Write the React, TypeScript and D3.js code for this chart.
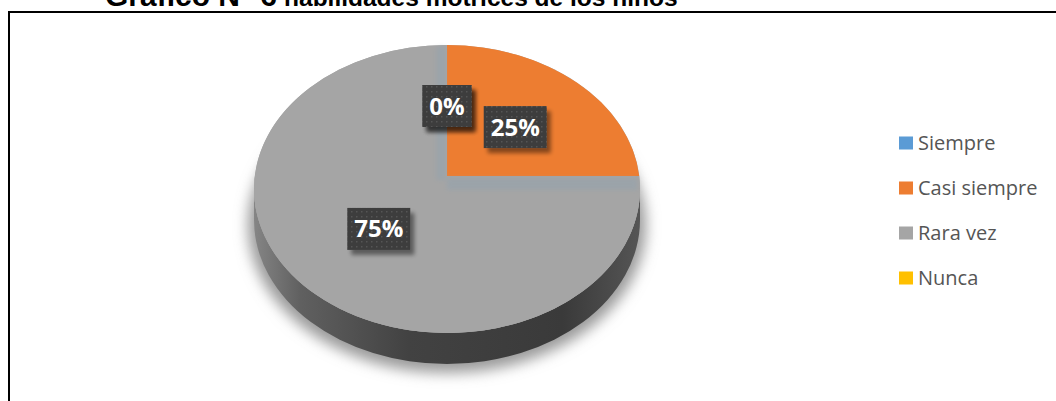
import React from 'react';
import * as d3 from 'd3';

const categories = ['Siempre', 'Casi siempre', 'Rara vez', 'Nunca'];
const values = [0, 25, 75, 0];
const percentLabels = ['0%', '25%', '75%', '0%'];
const sliceColors = ['#5b9bd5', '#ed7d31', '#a5a5a5', '#ffc000'];
const titleMain = 'Gráfico N° 6';
const titleSub = 'habilidades motrices de los niños';

export default function App() {
  const W = 1056, H = 401;
  const cx = 447, cy = 189, rx = 193, ry = 144, depth = 31;
  const px = 447, py = 176;
  const color = d3.scaleOrdinal<string, string>().domain(categories).range(sliceColors);
  const pie = d3.pie<number>().sort(null).value((d) => d);
  const arcs = pie(values);

  const hit = (theta: number): [number, number] => {
    const dx = Math.sin(theta), dy = -Math.cos(theta);
    const ux = (px - cx) / rx, uy = (py - cy) / ry, vx = dx / rx, vy = dy / ry;
    const a = vx * vx + vy * vy, b = 2 * (ux * vx + uy * vy), c = ux * ux + uy * uy - 1;
    const t = (-b + Math.sqrt(b * b - 4 * a * c)) / (2 * a);
    return [px + t * dx, py + t * dy];
  };
  const phi = (p: [number, number]) => Math.atan2((p[1] - cy) / ry, (p[0] - cx) / rx);

  const slicePath = (a0: number, a1: number) => {
    const p0 = hit(a0), p1 = hit(a1);
    const span = (phi(p1) - phi(p0) + 4 * Math.PI) % (2 * Math.PI);
    const large = span > Math.PI ? 1 : 0;
    return `M${px},${py}L${p0[0]},${p0[1]}A${rx},${ry} 0 ${large} 1 ${p1[0]},${p1[1]}Z`;
  };

  const sidePath = `M${cx - rx},${cy}A${rx},${ry} 0 0 0 ${cx + rx},${cy}L${cx + rx},${cy + depth}A${rx},${ry} 0 0 1 ${cx - rx},${cy + depth}Z`;

  const k = 0.5;
  const legendX = 899, legendY0 = 143, legendStep = 45;

  return (
    <svg width={W} height={H} style={{ position: 'absolute', left: 0, top: 0, background: '#fff' }}>
      <defs>
        <filter id="shadowBlur" x="-20%" y="-20%" width="140%" height="140%">
          <feGaussianBlur stdDeviation="7" />
        </filter>
        <filter id="bandBlur" x="-50%" y="-50%" width="200%" height="200%">
          <feGaussianBlur stdDeviation="2" />
        </filter>
        <filter id="boxShadow" x="-30%" y="-30%" width="160%" height="160%">
          <feGaussianBlur in="SourceAlpha" stdDeviation="2" />
          <feOffset dx="4" dy="5" result="ob" />
          <feComponentTransfer><feFuncA type="linear" slope="0.45" /></feComponentTransfer>
          <feMerge><feMergeNode /><feMergeNode in="SourceGraphic" /></feMerge>
        </filter>
        <pattern id="dots" width="5" height="5" patternUnits="userSpaceOnUse">
          <rect width="5" height="5" fill="#3d3d3d" />
          <rect x="1" y="1" width="1.5" height="1.5" fill="#555" />
        </pattern>
        <linearGradient id="sideGrad" x1="0" x2="1" y1="0" y2="0">
          <stop offset="0" stopColor="#858585" />
          <stop offset="0.12" stopColor="#606060" />
          <stop offset="0.4" stopColor="#424242" />
          <stop offset="0.8" stopColor="#3a3a3a" />
          <stop offset="1" stopColor="#555" />
        </linearGradient>
      </defs>

      <text x={105} y={6} fontFamily="'Liberation Sans', Arial, sans-serif" fontWeight="bold" fill="#000">
        <tspan fontSize={30}>{titleMain}</tspan>
        <tspan fontSize={24.5} dx={7}>{titleSub}</tspan>
      </text>
      <path d={`M9,${H}V12H${W}`} fill="none" stroke="#000" strokeWidth={2} />

      <ellipse cx={cx} cy={cy + 36} rx={rx + 6} ry={ry + 4} fill="#9a9a9a" filter="url(#shadowBlur)" />
      <path d={sidePath} fill="url(#sideGrad)" />
      <ellipse cx={cx} cy={cy} rx={rx} ry={ry} fill={color('Rara vez')} />
      {arcs.map((a, i) =>
        a.endAngle - a.startAngle > 1e-6 ? (
          <path key={i} d={slicePath(a.startAngle, a.endAngle)} fill={color(categories[i])} />
        ) : null
      )}
      <g filter="url(#bandBlur)" opacity={0.45} stroke="#8fa2b0" fill="none">
        <line x1={441} y1={hit(0)[1] + 2} x2={441} y2={py + 4} strokeWidth={9} />
        <line x1={px} y1={py + 8} x2={hit(Math.PI / 2)[0] - 2} y2={py + 8} strokeWidth={12} />
      </g>

      {arcs.map((a, i) => {
        const mid = (a.startAngle + a.endAngle) / 2;
        const lx = px + Math.sin(mid) * rx * k;
        const ly = py - Math.cos(mid) * ry * k + 2;
        const txt = percentLabels[i];
        const bw = 21 + 14 * txt.length, bh = 42;
        return (
          <g key={'l' + i}>
            <rect x={lx - bw / 2} y={ly - bh / 2} width={bw} height={bh} fill="url(#dots)" filter="url(#boxShadow)" />
            <text x={lx} y={ly + 8.5} textAnchor="middle" fontFamily="'Open Sans', sans-serif" fontWeight="bold" fontSize={24} fill="#fff">{txt}</text>
          </g>
        );
      })}

      {categories.map((c, i) => (
        <g key={'lg' + i}>
          <rect x={legendX} y={legendY0 + i * legendStep - 6.5} width={14} height={13} fill={color(c)} />
          <text x={legendX + 19} y={legendY0 + i * legendStep + 7} fontFamily="'Open Sans', sans-serif" fontSize={20} fill="#555">{c}</text>
        </g>
      ))}
    </svg>
  );
}
